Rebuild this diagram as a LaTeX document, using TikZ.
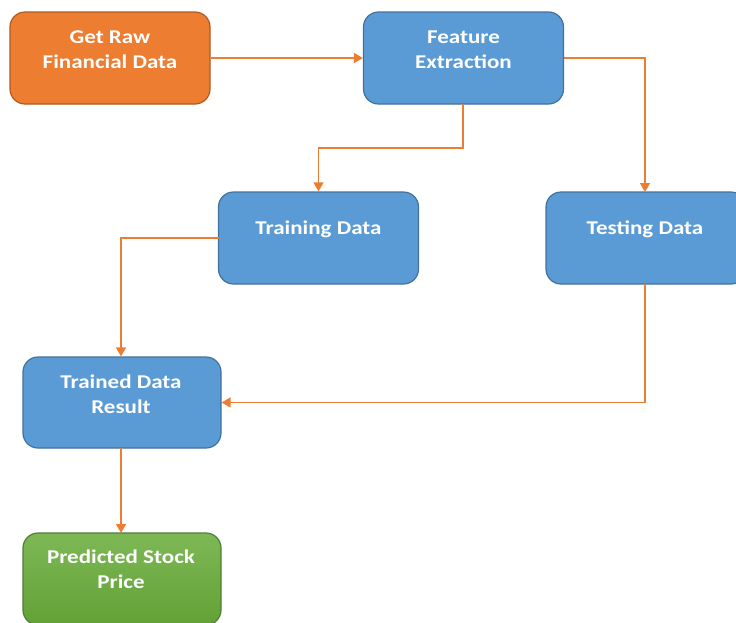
\documentclass[tikz,border=0pt]{standalone}
\usepackage{fontspec}
\setmainfont{Carlito}[FakeStretch=1.18]
\usetikzlibrary{arrows.meta}
\definecolor{orfill}{HTML}{ED7D31}
\definecolor{ordraw}{HTML}{AE5A21}
\definecolor{blfill}{HTML}{5B9BD5}
\definecolor{bldraw}{HTML}{41719C}
\definecolor{grtop}{HTML}{7DB856}
\definecolor{grbot}{HTML}{63A135}
\definecolor{grdraw}{HTML}{507E32}
\definecolor{arr}{HTML}{ED7D31}
\begin{document}
\begin{tikzpicture}[x=1pt,y=-1pt,
  box/.style={rectangle,rounded corners=15pt,line width=1.2pt,minimum width=200pt,minimum height=92pt,inner sep=0pt},
  bluebox/.style={box,fill=blfill,draw=bldraw},
  orbox/.style={box,fill=orfill,draw=ordraw},
  grbox/.style={box,top color=grtop,bottom color=grbot,draw=grdraw},
  lbl/.style={text=white,font=\bfseries\fontsize{19.5}{25}\selectfont,align=center,inner sep=0pt},
  conn/.style={draw=arr,line width=1.6pt,-{Triangle[width=10pt,length=9pt]}}
]
\useasboundingbox (0,0) rectangle (736,622);
\node[orbox] (raw) at (110,58) {};
\node[lbl] (rawt) at (110,50) {Get Raw\\Financial Data};
\node[bluebox] (feat) at (463.5,58) {};
\node[lbl] (featt) at (463.5,50) {Feature\\Extraction};
\node[bluebox] (train) at (318.5,238) {};
\node[lbl] (traint) at (318.5,229) {Training Data};
\node[bluebox] (test) at (646,238) {};
\node[lbl] (testt) at (645,229) {Testing Data};
\node[bluebox,minimum width=198pt,minimum height=91pt] (res) at (122,402.5) {};
\node[lbl] (rest) at (121,394.5) {Trained Data\\Result};
\node[grbox,minimum width=198pt] (pred) at (122,579) {};
\node[lbl] (predt) at (121,569) {Predicted Stock\\Price};

\draw[conn] (raw.east) -- (feat.west);
\coordinate (f1) at (463,104);
\draw[conn] (f1) -- (463,148) -| (train.north);
\draw[conn] (feat.east) -| (645,192);
\coordinate (t1) at (219,238);
\draw[conn] (t1) -| (res.north -| 121,0);
\coordinate (s1) at (645,284);
\draw[conn] (s1) |- (res.east);
\coordinate (r1) at (121,448);
\draw[conn] (r1) -- (121,533);
\end{tikzpicture}
\end{document}
